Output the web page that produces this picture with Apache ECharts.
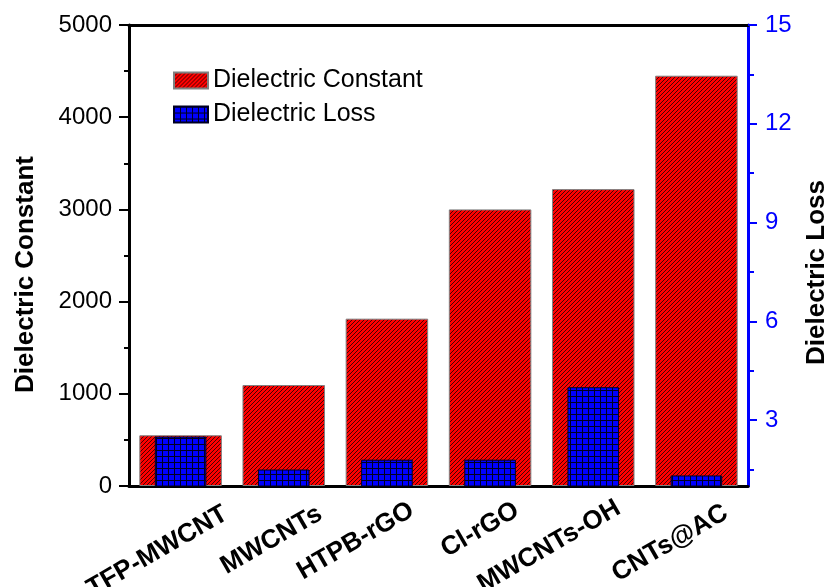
<!DOCTYPE html>
<html><head><meta charset="utf-8">
<script src="https://cdn.jsdelivr.net/npm/echarts@6/dist/echarts.min.js"></script>
<style>html,body{margin:0;padding:0;background:#fff}#c{width:826px;height:587px}</style>
</head><body><div id="c"></div>
<script>
const categories = ['TFP-MWCNT', 'MWCNTs', 'HTPB-rGO', 'Cl-rGO', 'MWCNTs-OH', 'CNTs@AC'];
const dielectricConstant = [550, 1095, 1815, 3000, 3220, 4450];
const dielectricLoss = [2.5, 1.5, 1.8, 1.8, 4.0, 1.32];
const rightTickLabels = [3, 6, 9, 12, 15];
const rightMinorTicks = [1.5, 4.5, 7.5, 10.5, 13.5];

// per-label fine placement of the rotated category labels
const labelRightPad = [0, 10, 23, 21, 23, 18];
const labelMargin = [26, 21, 11, 12, 9, 16];

function hatchPattern() {
  const c = document.createElement('canvas'); c.width = 4; c.height = 4;
  const g = c.getContext('2d');
  g.fillStyle = '#ff0000'; g.fillRect(0, 0, 4, 4);
  g.strokeStyle = '#1a0000'; g.lineWidth = 0.8;
  g.beginPath();
  g.moveTo(-1, 5); g.lineTo(5, -1);
  g.moveTo(-1, 1); g.lineTo(1, -1);
  g.moveTo(3, 5); g.lineTo(5, 3);
  g.stroke();
  return { image: c, repeat: 'repeat' };
}
function gridPattern() {
  const c = document.createElement('canvas'); c.width = 6; c.height = 6;
  const g = c.getContext('2d');
  g.fillStyle = '#0000ff'; g.fillRect(0, 0, 6, 6);
  g.fillStyle = '#000022';
  g.fillRect(0, 0, 6, 1);
  g.fillRect(0, 0, 1, 6);
  return { image: c, repeat: 'repeat' };
}

const FONT = 'Liberation Sans, Arial, sans-serif';
const labelAxisData = categories.map((c, i) => ({ value: c, textStyle: { padding: [0, labelRightPad[i], 0, 0] } }));

const labelAxes = categories.map((c, i) => ({
  type: 'category', gridIndex: 1, position: 'bottom', data: labelAxisData,
  axisLine: { show: false, onZero: false }, axisTick: { show: false }, splitLine: { show: false },
  axisLabel: { rotate: 30, margin: labelMargin[i], fontSize: 26, fontWeight: 'bold', color: '#000',
    fontFamily: FONT, interval: 0, formatter: (v, idx) => (idx === i ? v : '') }
}));

const chart = echarts.init(document.getElementById('c'), null, { renderer: 'canvas' });
chart.setOption({
  backgroundColor: '#fff',
  animation: false,
  textStyle: { fontFamily: FONT },
  grid: [
    { left: 129, right: 78, top: 25, bottom: 101, outerBoundsMode: 'none', containLabel: false },
    { left: 174, right: 33, top: 25, bottom: 101, outerBoundsMode: 'none', containLabel: false }
  ],
  legend: {
    orient: 'vertical', left: 173, top: 68, itemWidth: 34, itemHeight: 16, itemGap: 9, padding: 0,
    icon: 'rect',
    textStyle: { fontSize: 25, color: '#000', fontFamily: FONT, lineHeight: 25 },
    data: ['Dielectric Constant', 'Dielectric Loss']
  },
  xAxis: [
    { type: 'category', gridIndex: 0, position: 'bottom', data: categories,
      axisLine: { onZero: false, lineStyle: { color: '#000', width: 3 } },
      axisTick: { show: false }, axisLabel: { show: false }, splitLine: { show: false } },
    { type: 'category', gridIndex: 0, position: 'top', data: categories,
      axisLine: { onZero: false, lineStyle: { color: '#000', width: 3 } },
      axisTick: { show: false }, axisLabel: { show: false }, splitLine: { show: false } }
  ].concat(labelAxes),
  yAxis: [
    { type: 'value', gridIndex: 0, position: 'left', min: 0, max: 5000, interval: 1000,
      axisLine: { show: true, lineStyle: { color: '#000', width: 3 } },
      axisTick: { show: true, length: 10, lineStyle: { width: 2, color: '#000' } },
      minorTick: { show: true, splitNumber: 2, length: 5, lineStyle: { width: 2, color: '#000' } },
      axisLabel: { fontSize: 24, margin: 17, color: '#000', fontFamily: FONT, formatter: v => String(v) },
      splitLine: { show: false },
      name: 'Dielectric Constant', nameLocation: 'middle', nameGap: 90,
      nameTextStyle: { fontSize: 26, fontWeight: 'bold', color: '#000', fontFamily: FONT, padding: [0, 38, 0, 0] } },
    { type: 'value', gridIndex: 0, position: 'right', min: 1, max: 15,
      axisLine: { show: true, lineStyle: { color: '#0000ff', width: 3 } },
      axisTick: { show: true, length: 9, customValues: rightTickLabels, lineStyle: { width: 2, color: '#0000ff' } },
      axisLabel: { fontSize: 24, margin: 17, color: '#0000ff', customValues: rightTickLabels, fontFamily: FONT },
      splitLine: { show: false },
      name: 'Dielectric Loss', nameLocation: 'middle', nameGap: 56, nameRotate: 90,
      nameTextStyle: { fontSize: 26, fontWeight: 'bold', color: '#000', fontFamily: FONT, padding: [0, 34, 0, 0] } },
    { type: 'value', gridIndex: 0, position: 'right', min: 1, max: 15,
      axisLine: { show: false },
      axisTick: { show: true, length: 6, customValues: rightMinorTicks, lineStyle: { width: 2, color: '#0000ff' } },
      axisLabel: { show: false }, splitLine: { show: false } },
    { type: 'value', gridIndex: 1, show: false, min: 0, max: 1 }
  ],
  series: [
    { name: 'Dielectric Constant', type: 'bar', xAxisIndex: 0, yAxisIndex: 0, barWidth: '80%',
      data: dielectricConstant,
      itemStyle: { color: hatchPattern(), borderColor: '#808080', borderWidth: 1 } },
    { name: 'Dielectric Loss', type: 'bar', xAxisIndex: 1, yAxisIndex: 1, barWidth: '50%', clip: true,
      data: dielectricLoss,
      itemStyle: { color: gridPattern(), borderColor: '#000022', borderWidth: 1 } }
  ]
});
</script></body></html>
